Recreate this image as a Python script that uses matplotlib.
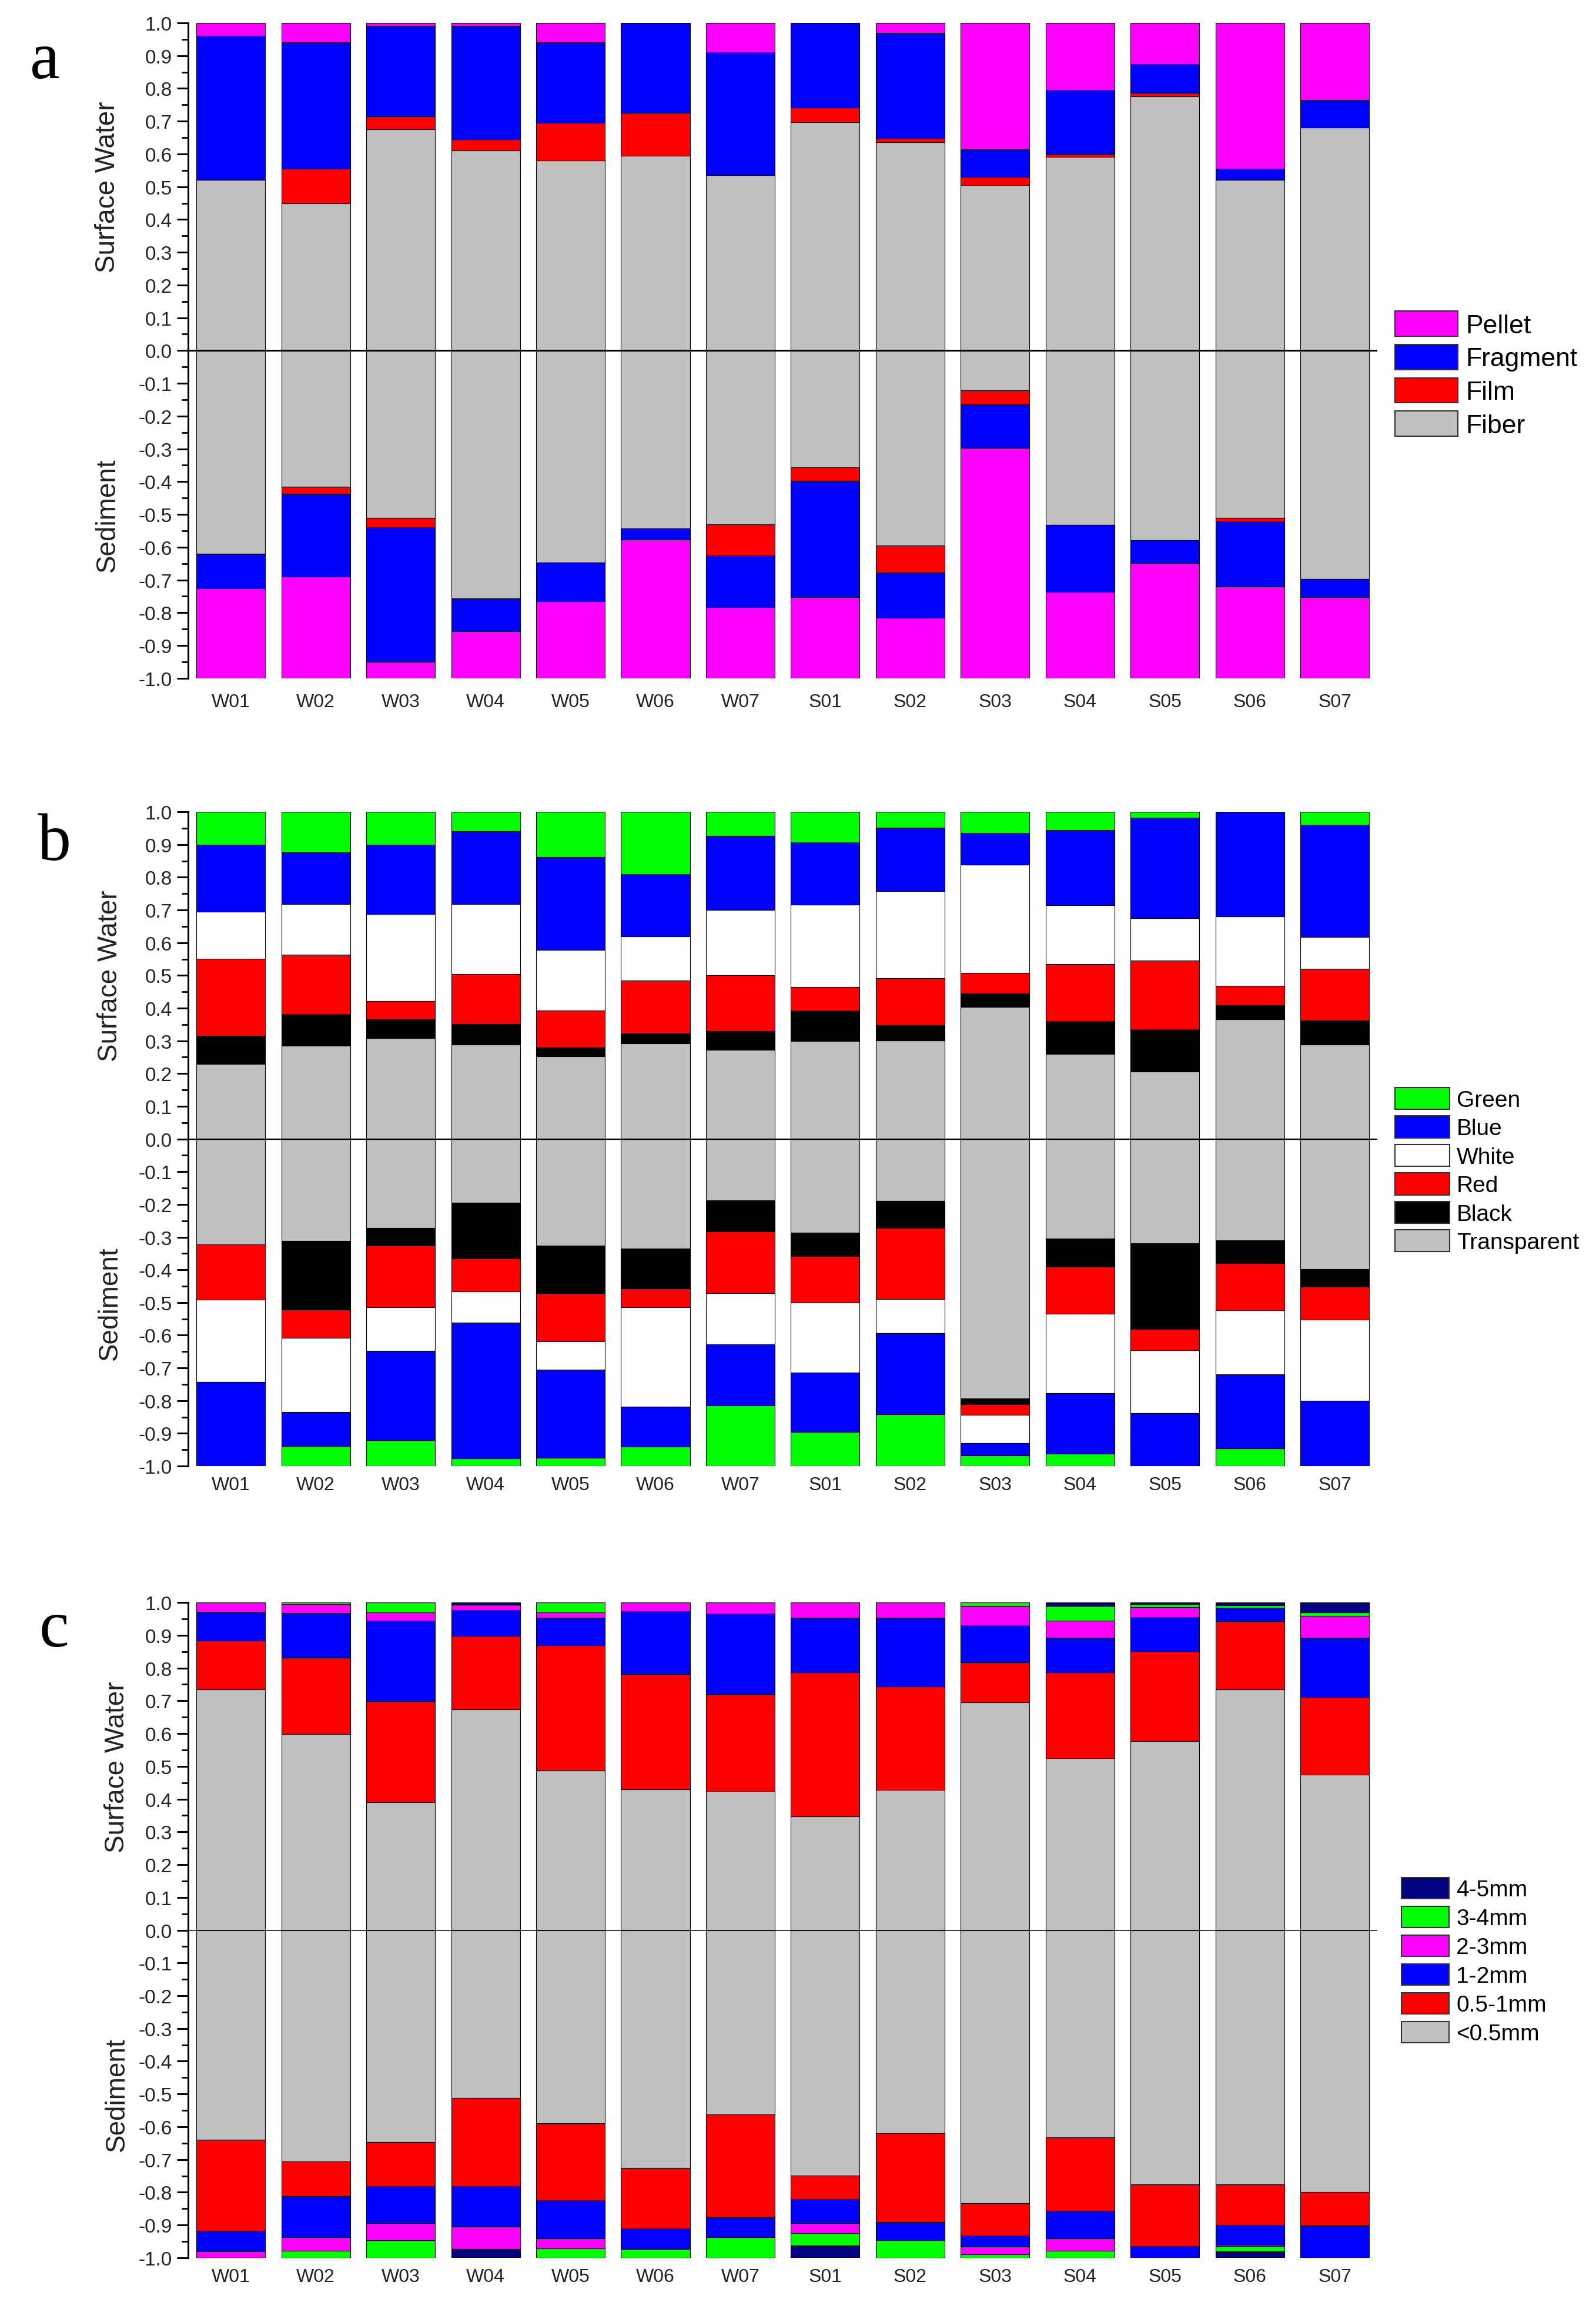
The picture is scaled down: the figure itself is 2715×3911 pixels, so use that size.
import numpy as np
import matplotlib
matplotlib.use('Agg')
import matplotlib.pyplot as plt
from matplotlib.patches import Patch
from matplotlib.ticker import MultipleLocator, FormatStrFormatter

plt.rcParams['font.family'] = ['Liberation Sans', 'DejaVu Sans']
plt.rcParams['axes.unicode_minus'] = False

sites = ['W01', 'W02', 'W03', 'W04', 'W05', 'W06', 'W07',
         'S01', 'S02', 'S03', 'S04', 'S05', 'S06', 'S07']

# panel a: shape (layers bottom -> top: Fiber, Film, Fragment, Pellet)
shape_names = ['Fiber', 'Film', 'Fragment', 'Pellet']
shape_colors = ['#c0c0c0', '#ff0000', '#0000ff', '#ff00ff']
shape_surface = [
    [0.52, 0.45, 0.675, 0.61, 0.58, 0.595, 0.535, 0.697, 0.635, 0.505, 0.59, 0.775, 0.52, 0.68],
    [0.0, 0.105, 0.04, 0.035, 0.115, 0.13, 0.0, 0.045, 0.013, 0.025, 0.01, 0.012, 0.0, 0.0],
    [0.44, 0.385, 0.275, 0.345, 0.245, 0.275, 0.375, 0.258, 0.322, 0.085, 0.195, 0.088, 0.035, 0.085],
    [0.04, 0.06, 0.01, 0.01, 0.06, 0.0, 0.09, 0.0, 0.03, 0.385, 0.205, 0.125, 0.445, 0.235],
]
shape_sediment = [
    [0.62, 0.415, 0.51, 0.757, 0.647, 0.542, 0.53, 0.357, 0.595, 0.122, 0.532, 0.578, 0.51, 0.697],
    [0.0, 0.022, 0.03, 0.0, 0.0, 0.0, 0.095, 0.04, 0.082, 0.043, 0.0, 0.0, 0.012, 0.0],
    [0.105, 0.253, 0.41, 0.1, 0.118, 0.035, 0.158, 0.355, 0.138, 0.133, 0.205, 0.07, 0.198, 0.055],
    [0.275, 0.31, 0.05, 0.143, 0.235, 0.423, 0.217, 0.248, 0.185, 0.702, 0.263, 0.352, 0.28, 0.248],
]

# panel b: colour (Transparent, Black, Red, White, Blue, Green)
color_names = ['Transparent', 'Black', 'Red', 'White', 'Blue', 'Green']
color_colors = ['#c0c0c0', '#000000', '#ff0000', '#ffffff', '#0000ff', '#00ff00']
color_surface = [
    [0.23, 0.285, 0.309, 0.289, 0.253, 0.293, 0.273, 0.299, 0.302, 0.403, 0.26, 0.206, 0.366, 0.288],
    [0.086, 0.097, 0.056, 0.063, 0.026, 0.029, 0.057, 0.093, 0.046, 0.042, 0.10, 0.13, 0.043, 0.075],
    [0.235, 0.182, 0.057, 0.152, 0.114, 0.162, 0.17, 0.073, 0.144, 0.063, 0.175, 0.21, 0.059, 0.157],
    [0.143, 0.154, 0.266, 0.214, 0.185, 0.136, 0.20, 0.252, 0.266, 0.33, 0.179, 0.129, 0.212, 0.098],
    [0.206, 0.158, 0.212, 0.222, 0.283, 0.19, 0.226, 0.19, 0.193, 0.098, 0.23, 0.308, 0.32, 0.342],
    [0.10, 0.124, 0.10, 0.06, 0.139, 0.19, 0.074, 0.093, 0.049, 0.064, 0.056, 0.017, 0.0, 0.04],
]
color_sediment = [
    [0.322, 0.312, 0.272, 0.195, 0.326, 0.335, 0.187, 0.286, 0.19, 0.793, 0.305, 0.319, 0.309, 0.398],
    [0.0, 0.21, 0.054, 0.171, 0.146, 0.123, 0.096, 0.073, 0.082, 0.018, 0.085, 0.262, 0.071, 0.054],
    [0.17, 0.086, 0.189, 0.10, 0.147, 0.057, 0.189, 0.141, 0.218, 0.033, 0.144, 0.064, 0.144, 0.10],
    [0.25, 0.226, 0.133, 0.096, 0.086, 0.303, 0.155, 0.215, 0.104, 0.086, 0.243, 0.193, 0.196, 0.248],
    [0.258, 0.104, 0.272, 0.415, 0.269, 0.123, 0.187, 0.181, 0.247, 0.037, 0.186, 0.162, 0.226, 0.20],
    [0.0, 0.062, 0.08, 0.023, 0.026, 0.059, 0.186, 0.104, 0.159, 0.033, 0.037, 0.0, 0.054, 0.0],
]

# panel c: size (<0.5mm, 0.5-1mm, 1-2mm, 2-3mm, 3-4mm, 4-5mm)
size_names = ['<0.5mm', '0.5-1mm', '1-2mm', '2-3mm', '3-4mm', '4-5mm']
size_colors = ['#c0c0c0', '#ff0000', '#0000ff', '#ff00ff', '#00ff00', '#000080']
size_surface = [
    [0.735, 0.599, 0.391, 0.673, 0.487, 0.43, 0.424, 0.347, 0.427, 0.695, 0.524, 0.577, 0.735, 0.474],
    [0.149, 0.232, 0.308, 0.225, 0.383, 0.351, 0.297, 0.44, 0.317, 0.122, 0.263, 0.274, 0.208, 0.238],
    [0.087, 0.136, 0.245, 0.079, 0.083, 0.192, 0.245, 0.166, 0.21, 0.114, 0.106, 0.105, 0.041, 0.181],
    [0.029, 0.028, 0.026, 0.016, 0.017, 0.027, 0.034, 0.047, 0.046, 0.059, 0.051, 0.029, 0.0, 0.065],
    [0.0, 0.005, 0.03, 0.0, 0.03, 0.0, 0.0, 0.0, 0.0, 0.01, 0.046, 0.01, 0.008, 0.012],
    [0.0, 0.0, 0.0, 0.007, 0.0, 0.0, 0.0, 0.0, 0.0, 0.0, 0.01, 0.005, 0.008, 0.03],
]
size_sediment = [
    [0.639, 0.706, 0.646, 0.513, 0.589, 0.726, 0.562, 0.749, 0.619, 0.834, 0.633, 0.775, 0.775, 0.799],
    [0.278, 0.106, 0.136, 0.268, 0.235, 0.184, 0.315, 0.071, 0.272, 0.097, 0.224, 0.189, 0.125, 0.102],
    [0.064, 0.126, 0.113, 0.124, 0.117, 0.064, 0.061, 0.075, 0.056, 0.035, 0.084, 0.036, 0.06, 0.099],
    [0.019, 0.04, 0.052, 0.069, 0.03, 0.0, 0.0, 0.029, 0.0, 0.024, 0.037, 0.0, 0.005, 0.0],
    [0.0, 0.022, 0.053, 0.0, 0.029, 0.026, 0.062, 0.039, 0.053, 0.01, 0.022, 0.0, 0.015, 0.0],
    [0.0, 0.0, 0.0, 0.026, 0.0, 0.0, 0.0, 0.037, 0.0, 0.0, 0.0, 0.0, 0.02, 0.0],
]


def draw_panel(fig, rect, surface, sediment, names, colors, letter, letter_xy,
               zero_lw, leg_xy, leg_fs, leg_hl, leg_hh, leg_ls, ylab_x, xpad):
    ax = fig.add_axes(rect)
    x = np.arange(len(sites))
    surface = np.array(surface)
    sediment = np.array(sediment)
    up = np.zeros(len(sites))
    down = np.zeros(len(sites))
    for i in range(len(names)):
        ax.bar(x, surface[i], bottom=up, width=0.81, color=colors[i],
               edgecolor='black', linewidth=0.8, zorder=2)
        ax.bar(x, -sediment[i], bottom=-down, width=0.81, color=colors[i],
               edgecolor='black', linewidth=0.8, zorder=2)
        up += surface[i]
        down += sediment[i]
    ax.axhline(0, color='black', lw=zero_lw, zorder=3)

    ax.set_xlim(-0.5, 13.5)
    ax.set_ylim(-1, 1)
    ax.set_xticks(x)
    ax.set_xticklabels(sites, fontsize=23, color='#222222')
    ax.tick_params(axis='x', length=0, pad=xpad)
    ax.yaxis.set_major_locator(MultipleLocator(0.1))
    ax.yaxis.set_minor_locator(MultipleLocator(0.05))
    ax.yaxis.set_major_formatter(FormatStrFormatter('%.1f'))
    ax.tick_params(axis='y', which='major', length=14, width=2.2, labelsize=24,
                   pad=6, labelcolor='#222222')
    ax.tick_params(axis='y', which='minor', length=8, width=2.0)
    for s in ['top', 'right', 'bottom']:
        ax.spines[s].set_visible(False)
    ax.spines['left'].set_linewidth(2.2)

    tr = matplotlib.transforms.blended_transform_factory(ax.transAxes, ax.transData)
    ax.text(ylab_x, 0.5, 'Surface Water', rotation=90, ha='center', va='center',
            fontsize=33, color='#222222', transform=tr)
    ax.text(ylab_x, -0.5, 'Sediment', rotation=90, ha='center', va='center',
            fontsize=33, color='#222222', transform=tr)

    fig.text(letter_xy[0], letter_xy[1], letter, fontsize=82,
             family='Liberation Serif', ha='center', va='center')

    handles = [Patch(facecolor=colors[i], edgecolor='#333333', linewidth=1.5)
               for i in range(len(names))][::-1]
    fig.legend(handles, names[::-1], loc='center left', bbox_to_anchor=leg_xy,
               frameon=False, fontsize=leg_fs, handlelength=leg_hl,
               handleheight=leg_hh, labelspacing=leg_ls, handletextpad=0.3,
               borderpad=0, borderaxespad=0)
    return ax


fig = plt.figure(figsize=(27.15, 39.12), dpi=100)

draw_panel(fig, [0.118, 0.7048, 0.745, 0.285], shape_surface, shape_sediment,
           shape_names, shape_colors, 'a', (0.028, 0.973), 2.2,
           (0.874, 0.8369), 32, 2.4, 1.1, 0.25, -0.068, 18)
draw_panel(fig, [0.118, 0.3622, 0.745, 0.2845], color_surface, color_sediment,
           color_names, color_colors, 'b', (0.034, 0.633), 1.6,
           (0.874, 0.4908), 28, 2.4, 1.1, 0.22, -0.066, 12)
draw_panel(fig, [0.118, 0.0179, 0.745, 0.285], size_surface, size_sediment,
           size_names, size_colors, 'c', (0.034, 0.291), 1.1,
           (0.878, 0.147), 28, 2.1, 1.05, 0.25, -0.06, 12)

fig.savefig('out.png', dpi=100, facecolor='white')
